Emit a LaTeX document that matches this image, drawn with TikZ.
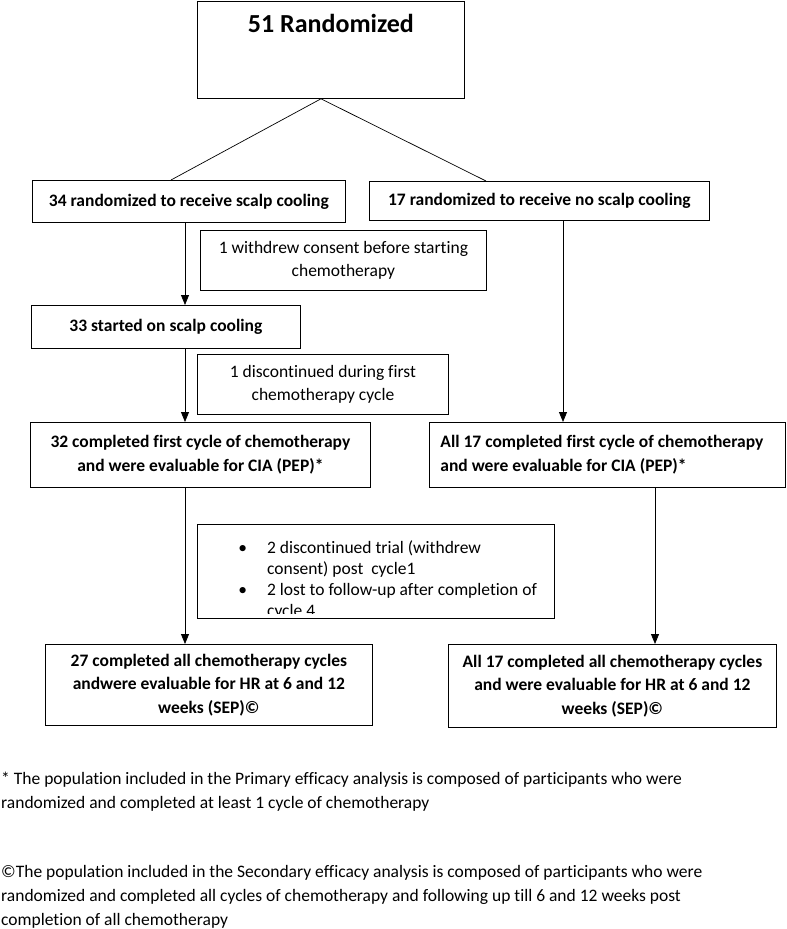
\documentclass[tikz,border=0pt]{standalone}
\usepackage{fontspec}
\setmainfont{Carlito}[Ligatures=NoCommon]
\usetikzlibrary{arrows.meta}
\tikzset{
	box/.style={draw, line width=0.8pt, anchor=north west, inner sep=0pt, align=center,
		font=\fontsize{17.5}{23.5}\selectfont\bfseries},
	note/.style={box, font=\fontsize{17.5}{23.5}\selectfont},
	arr/.style={line width=0.8pt, -{Triangle[length=10pt,width=8pt]}},
	foot/.style={anchor=north west, inner sep=0pt, font=\fontsize{17.5}{24}\selectfont}
}

\begin{document}
\begin{tikzpicture}[x=1pt,y=-1pt]
	\useasboundingbox (0,0) rectangle (787,929);
	\node[box, minimum width=267pt, inner ysep=14pt, text height=17pt, text depth=52pt,
		font=\fontsize{26}{30}\selectfont\bfseries] (rand) at (197,1) {51 Randomized};
	\node[box, minimum width=313pt, minimum height=42pt] (arm1) at (32,180) {34 randomized to receive scalp cooling};
	\node[box, minimum width=340pt, minimum height=39pt] (arm2) at (369,181) {17 randomized to receive no scalp cooling};
	\node[note, minimum width=286pt, minimum height=60pt] (out1) at (200,230) {1 withdrew consent before starting\\chemotherapy};
	\node[box, minimum width=269pt, minimum height=43pt] (start1) at (31,305) {33 started on scalp cooling};
	\node[note, minimum width=251pt, minimum height=60pt] (out2) at (197,354) {1 discontinued during first\\chemotherapy cycle};
	\node[box, minimum width=340pt, minimum height=65pt] (pep1) at (30,422) {32 completed first cycle of chemotherapy\\and were evaluable for CIA (PEP)*};
	\node[box, minimum height=65pt] (pep2) at (429,422)
		{\makebox[356pt][l]{\hspace*{11pt}\begin{tabular}{@{}l@{}}All 17 completed first cycle of chemotherapy\\and were evaluable for CIA (PEP)*\end{tabular}}};
	% last line of this box runs past its border
	\begin{scope}
		\clip (196,523) rectangle (555,613);
		\node[note, draw=none, text height=29pt, text depth=65pt, font=\fontsize{17.5}{21}\selectfont] (out3) at (197,524)
			{\makebox[357pt][l]{\hspace*{41pt}\begin{tabular}[t]{@{}l@{\hspace{20pt}}l@{}}
				\textbullet & 2 discontinued trial (withdrew\\
				 & consent) post\ \ cycle1\\
				\textbullet & 2 lost to follow-up after completion of\\
				 & cycle 4
			\end{tabular}}};
	\end{scope}
	\draw[line width=0.8pt] (out3.north west) rectangle (out3.south east);
	\node[box, minimum width=327pt, minimum height=81pt] (sep1) at (45,644) {27 completed all chemotherapy cycles\\andwere evaluable for HR at 6 and 12\\weeks (SEP)©};
	\node[box, minimum width=328pt, minimum height=83pt] (sep2) at (448,644) {All 17 completed all chemotherapy cycles\\and were evaluable for HR at 6 and 12\\weeks (SEP)©};
	\node[foot] (fn1) at (1,767) {\begin{tabular}[t]{@{}l@{}}* The population included in the Primary efficacy analysis is composed of participants who were\\randomized and completed at least 1 cycle of chemotherapy\end{tabular}};
	\node[foot] (fn2) at (1,860) {\begin{tabular}[t]{@{}l@{}}©The population included in the Secondary efficacy analysis is composed of participants who were\\randomized and completed all cycles of chemotherapy and following up till 6 and 12 weeks post\\completion of all chemotherapy\end{tabular}};

	\coordinate (lx) at (185,0);
	\coordinate (rx) at (563,0);
	\coordinate (rx2) at (655,0);
	\draw[line width=0.7pt] ([xshift=124pt]rand.south west) -- ([xshift=139pt]arm1.north west);
	\draw[line width=0.7pt] ([xshift=124pt]rand.south west) -- ([xshift=117pt]arm2.north west);
	\draw[arr] (arm1.south -| lx) -- (start1.north -| lx);
	\draw[arr] (start1.south -| lx) -- (pep1.north -| lx);
	\draw[arr] (pep1.south -| lx) -- (sep1.north -| lx);
	\draw[arr] (arm2.south -| rx) -- (pep2.north -| rx);
	\draw[arr] (pep2.south -| rx2) -- (sep2.north -| rx2);
\end{tikzpicture}
\end{document}
